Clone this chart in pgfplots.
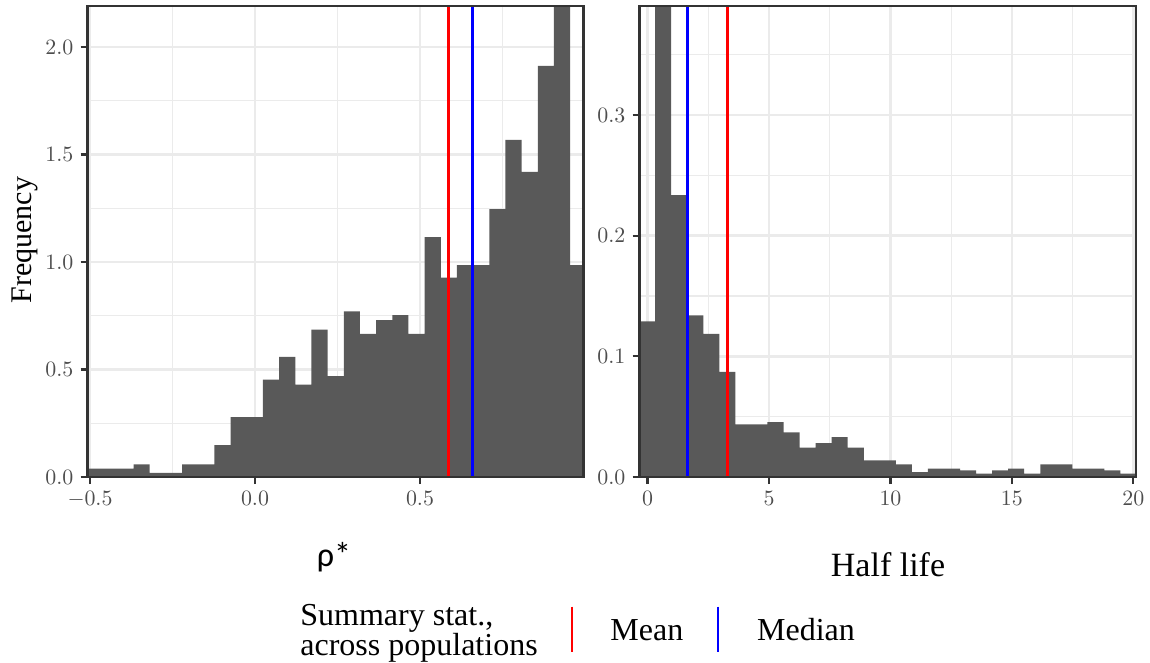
\documentclass[border=0pt]{standalone}
\usepackage{fontspec}
\setmainfont{Liberation Serif}
\newfontfamily\carlito{Carlito}
\usepackage{pgfplots}
\pgfplotsset{compat=1.18}
\definecolor{gridc}{HTML}{EBEBEB}
\definecolor{bord}{HTML}{333333}
\definecolor{tickl}{HTML}{4D4D4D}
\definecolor{barc}{HTML}{595959}
\pgfplotsset{
 layers/mylayers/.define layer set={axis background,axis grid,main,axis ticks,axis lines,axis tick labels,axis descriptions,axis foreground}{
    grid style={/pgfplots/on layer=axis grid},
    tick style={/pgfplots/on layer=axis ticks},
    axis line style={/pgfplots/on layer=axis lines},
    label style={/pgfplots/on layer=axis descriptions},
    legend style={/pgfplots/on layer=axis descriptions},
    title style={/pgfplots/on layer=axis descriptions},
    ticklabel style={/pgfplots/on layer=axis tick labels},
 },
 ggstyle/.style={
  set layers=mylayers,
  scale only axis,
  axis line style={bord, line width=1.1pt},
  tick align=outside,
  major tick length=3.5pt,
  minor tick length=0pt,
  major tick style={bord, line width=1.1pt},
  tick pos=left,
  grid=both,
  major grid style={gridc, line width=1.2pt},
  minor grid style={gridc, line width=0.6pt},
  ticklabel style={font=\fontsize{10.5}{12}\selectfont, text=tickl},
  anchor=south west,
  height=235.5pt,
  ymin=0,
 }
}
\begin{document}
\begin{tikzpicture}
% Left panel: rho*
\begin{axis}[ggstyle,
  at={(43.75pt,-238.5pt)}, width=248pt,
  xmin=-0.5076, xmax=0.9955, ymax=2.191,
  xtick={-0.5,0,0.5}, minor xtick={-0.25,0.25,0.75},
  ytick={0,0.5,1,1.5,2}, minor ytick={0.25,0.75,1.25,1.75},
  xticklabel style={/pgf/number format/.cd, fixed, fixed zerofill, precision=1},
  yticklabel style={/pgf/number format/.cd, fixed, fixed zerofill, precision=1},
]
\addplot[ybar interval, fill=barc, draw=none] table {
x y
-0.515 0.039
-0.466 0.039
-0.417 0.039
-0.368 0.059
-0.319 0.019
-0.270 0.019
-0.221 0.059
-0.172 0.059
-0.123 0.148
-0.074 0.279
-0.025 0.279
0.024 0.453
0.073 0.559
0.122 0.430
0.171 0.686
0.220 0.469
0.269 0.771
0.318 0.666
0.367 0.730
0.416 0.753
0.465 0.666
0.514 1.116
0.563 0.927
0.612 0.986
0.661 0.986
0.710 1.246
0.759 1.568
0.808 1.419
0.857 1.912
0.906 2.400
0.955 0.986
1.004 0.986
};
\addplot[red, line width=1.4pt] coordinates {(0.586,0) (0.586,3)};
\addplot[blue, line width=1.4pt] coordinates {(0.659,0) (0.659,3)};
\end{axis}
% Right panel: half life
\begin{axis}[ggstyle,
  at={(319.75pt,-238.5pt)}, width=248.25pt,
  xmin=-0.333, xmax=20.11, ymax=0.3903,
  xtick={0,5,10,15,20}, minor xtick={2.5,7.5,12.5,17.5},
  ytick={0,0.1,0.2,0.3}, minor ytick={0.05,0.15,0.25,0.35},
  yticklabel style={/pgf/number format/.cd, fixed, fixed zerofill, precision=1},
]
\addplot[ybar interval, fill=barc, draw=none] table {
x y
-0.350 0.129
0.311 0.420
0.971 0.2336
1.632 0.134
2.293 0.1186
2.954 0.0871
3.614 0.0437
4.275 0.0437
4.936 0.0454
5.596 0.0370
6.257 0.0244
6.918 0.0280
7.579 0.0330
8.239 0.0244
8.900 0.0138
9.561 0.0138
10.221 0.0105
10.882 0.0041
11.543 0.0069
12.204 0.0069
12.864 0.0055
13.525 0.0028
14.186 0.0055
14.846 0.0069
15.507 0.0028
16.168 0.0105
16.829 0.0105
17.489 0.0069
18.150 0.0069
18.811 0.0055
19.471 0.0028
20.132 0.0028
};
\addplot[red, line width=1.4pt] coordinates {(3.30,0) (3.30,1)};
\addplot[blue, line width=1.4pt] coordinates {(1.64,0) (1.64,1)};
\end{axis}
% Axis titles
\node[rotate=90, font=\fontsize{15}{18}\selectfont] at (12.5pt,-120pt) {Frequency};
\node[anchor=base, font=\carlito\fontsize{17}{20}\selectfont] at (167pt,-283pt) {ρ*};
\node[anchor=base, font=\fontsize{17}{20}\selectfont] at (444pt,-288.3pt) {Half life};
% Legend
\node[anchor=base west, inner sep=0pt, font=\fontsize{16}{18}\selectfont] at (150pt,-312.5pt) {Summary stat.,};
\node[anchor=base west, inner sep=0pt, font=\fontsize{16}{18}\selectfont] at (150pt,-327.5pt) {across populations};
\draw[red, line width=1.2pt] (285.85pt,-303.35pt) -- (285.85pt,-325.85pt);
\node[anchor=base west, inner sep=0pt, font=\fontsize{16}{18}\selectfont] at (305pt,-320pt) {Mean};
\draw[blue, line width=1.2pt] (358.85pt,-303.35pt) -- (358.85pt,-325.85pt);
\node[anchor=base west, inner sep=0pt, font=\fontsize{16}{18}\selectfont] at (378.35pt,-320pt) {Median};
\pgfresetboundingbox
\path[use as bounding box] (0,0) rectangle (575pt,-331.5pt);
\end{tikzpicture}
\end{document}
